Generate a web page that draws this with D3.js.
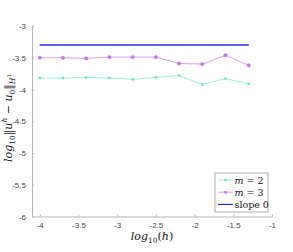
<!DOCTYPE html>
<html>
<head>
<meta charset="utf-8">
<script src="https://cdn.jsdelivr.net/npm/d3@7"></script>
<style>
body { margin: 0; background: #fff; }
.tex { font-family: "DejaVu Serif", serif; fill: #111; }
.tick text { font-family: "Liberation Sans", Arial, sans-serif; }
</style>
</head>
<body>
<svg id="chart" width="293" height="252"></svg>
<script>
var logH = [-4, -3.7, -3.4, -3.1, -2.8, -2.5, -2.2, -1.9, -1.6, -1.3];
var errM2 = [-3.82, -3.82, -3.81, -3.82, -3.84, -3.81, -3.78, -3.92, -3.83, -3.91];
var errM3 = [-3.50, -3.50, -3.51, -3.49, -3.49, -3.49, -3.59, -3.60, -3.46, -3.62];
var slope0 = [-3.30, -3.30];
var slopeX = [-4, -1.3];
var xTicks = [-4, -3.5, -3, -2.5, -2, -1.5, -1];
var yTicks = [-3, -3.5, -4, -4.5, -5, -5.5, -6];
var seriesNames = ["m = 2", "m = 3", "slope 0"];

var svg = d3.select("#chart");
var X = d3.scaleLinear().domain([-4.1, -1]).range([32, 272]);
var Y = d3.scaleLinear().domain([-6, -3]).range([216.5, 26]);
var axisCol = "#b5b5b5";

// axes
var xa = svg.append("g").attr("transform", "translate(0,216.5)")
    .call(d3.axisBottom(X).tickValues(xTicks).tickFormat(d3.format("")).tickSizeInner(-2).tickSizeOuter(0).tickPadding(6));
var ya = svg.append("g").attr("transform", "translate(32,0)")
    .call(d3.axisLeft(Y).tickValues(yTicks).tickFormat(d3.format("")).tickSizeInner(-2).tickSizeOuter(0).tickPadding(6));
[xa, ya].forEach(function (a) {
    a.attr("font-family", null);
    a.select(".domain").attr("stroke", axisCol);
    a.selectAll(".tick line").attr("stroke", axisCol);
    a.selectAll(".tick text").attr("fill", "#444").style("font-size", "8px")
        .text(function (d) { return String(d); });
});

var line = d3.line().x(function (d) { return X(d[0]); }).y(function (d) { return Y(d[1]); });

// slope 0
svg.append("path").datum(d3.zip(slopeX, slope0)).attr("d", line)
    .attr("fill", "none").attr("stroke", "#2b2be0").attr("stroke-width", 1.6);

// m = 3
svg.append("path").datum(d3.zip(logH, errM3)).attr("d", line)
    .attr("fill", "none").attr("stroke", "#d9a0f0").attr("stroke-width", 1);
svg.selectAll(".m3").data(d3.zip(logH, errM3)).enter().append("circle")
    .attr("cx", function (d) { return X(d[0]); }).attr("cy", function (d) { return Y(d[1]); })
    .attr("r", 1.6).attr("fill", "#c77de8").attr("stroke", "#b45fe0").attr("stroke-width", 0.6);

// m = 2
svg.append("path").datum(d3.zip(logH, errM2)).attr("d", line)
    .attr("fill", "none").attr("stroke", "#9ff0dc").attr("stroke-width", 1);
svg.selectAll(".m2").data(d3.zip(logH, errM2)).enter().append("path")
    .attr("d", d3.symbol(d3.symbolCross, 6)())
    .attr("transform", function (d) { return "translate(" + X(d[0]) + "," + Y(d[1]) + ") rotate(45)"; })
    .attr("fill", "#6fdcc0");

// legend
var lg = svg.append("g").attr("transform", "translate(215,173)");
lg.append("rect").attr("width", 53).attr("height", 39).attr("fill", "#fff").attr("stroke", "#999").attr("stroke-width", 0.8);
var legCols = ["#9ff0dc", "#d9a0f0", "#2b2be0"];
var legTxt = [["m", " = 2"], ["m", " = 3"], ["", "slope 0"]];
legTxt.forEach(function (t, i) {
    var y = 7 + i * 12.2;
    lg.append("line").attr("x1", 3).attr("x2", 18).attr("y1", y).attr("y2", y)
        .attr("stroke", legCols[i]).attr("stroke-width", i == 2 ? 1.2 : 1);
    if (i == 0) lg.append("path").attr("d", d3.symbol(d3.symbolCross, 6)())
        .attr("transform", "translate(10.5," + y + ") rotate(45)").attr("fill", "#6fdcc0");
    if (i == 1) lg.append("circle").attr("cx", 10.5).attr("cy", y).attr("r", 1.5).attr("fill", "#c77de8");
    var tx = lg.append("text").attr("class", "tex").attr("x", 19.5).attr("y", y + 3.5)
        .style("font-size", "9.5px");
    if (t[0]) tx.append("tspan").style("font-style", "italic").text(t[0]);
    tx.append("tspan").text(t[1]);
});

// x label
var xl = svg.append("text").attr("class", "tex").attr("x", 152).attr("y", 240).attr("text-anchor", "middle")
    .style("font-size", "11px");
xl.append("tspan").style("font-style", "italic").text("log");
xl.append("tspan").attr("dy", 2.5).style("font-size", "7.5px").text("10");
xl.append("tspan").attr("dy", -2.5).text("(");
xl.append("tspan").style("font-style", "italic").text("h");
xl.append("tspan").text(")");

// y label
var yl = svg.append("text").attr("class", "tex").attr("transform", "translate(12,118) rotate(-90)").attr("text-anchor", "middle")
    .style("font-size", "11px");
yl.append("tspan").style("font-style", "italic").text("log");
yl.append("tspan").attr("dy", 2.5).style("font-size", "7.5px").text("10");
yl.append("tspan").attr("dy", -2.5).text("\u2016");
yl.append("tspan").style("font-style", "italic").text("u");
yl.append("tspan").attr("dy", -5).style("font-size", "7.5px").style("font-style", "italic").text("h");
yl.append("tspan").attr("dy", 5).text(" \u2212 ");
yl.append("tspan").style("font-style", "italic").text("u");
yl.append("tspan").attr("dy", 2.5).style("font-size", "7.5px").text("0");
yl.append("tspan").attr("dy", -2.5).text("\u2016");
yl.append("tspan").attr("dy", 2.5).style("font-size", "7.5px").style("font-style", "italic").text("H");
yl.append("tspan").attr("dy", -3.5).style("font-size", "5.5px").text("1");
</script>
</body>
</html>
